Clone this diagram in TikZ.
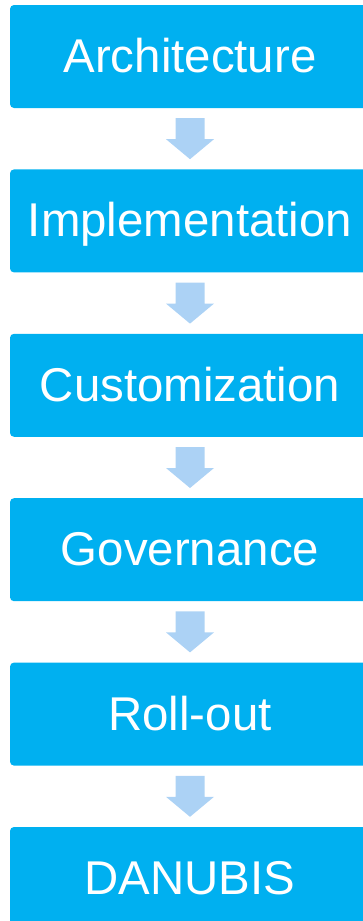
\documentclass[tikz,border=0pt]{standalone}
\usepackage{fontspec}
\setmainfont{Liberation Sans}
\usetikzlibrary{positioning,calc}

\definecolor{stepblue}{RGB}{0,176,240}
\definecolor{arrowblue}{RGB}{172,210,245}

\tikzset{
  stage/.style={rectangle, rounded corners=4pt, fill=stepblue, text=white,
    minimum width=360pt, minimum height=103pt, inner sep=0pt,
    text height=34pt, text depth=2pt,
    font=\fontsize{47.4}{57}\selectfont},
  flowarrow/.style={fill=arrowblue}
}

\begin{document}
\begin{tikzpicture}[x=1pt,y=1pt]
                \useasboundingbox (0,0) rectangle (362,-921);
                \node[stage] (arch) at (190,-56.5) {Architecture};
                \node[stage, below=61pt of arch] (impl) {Implementation};
                \node[stage, below=61pt of impl] (cust) {Customization};
                \node[stage, below=61pt of cust] (gov) {Governance};
                \node[stage, below=61pt of gov] (rollout) {Roll-out};
                \node[stage, below=61pt of rollout] (danubis) {DANUBIS};
                \foreach \a/\b in {arch/impl, impl/cust, cust/gov, gov/rollout, rollout/danubis}
                  \fill[flowarrow] ($(\a.south)!0.5!(\b.north)$) ++(-14.5,20.5) -- ++(29,0) -- ++(0,-21)
                    -- ++(9.5,0) -- ++(-24,-20) -- ++(-24,20) -- ++(9.5,0) -- cycle;
                \end{tikzpicture}
\end{document}
